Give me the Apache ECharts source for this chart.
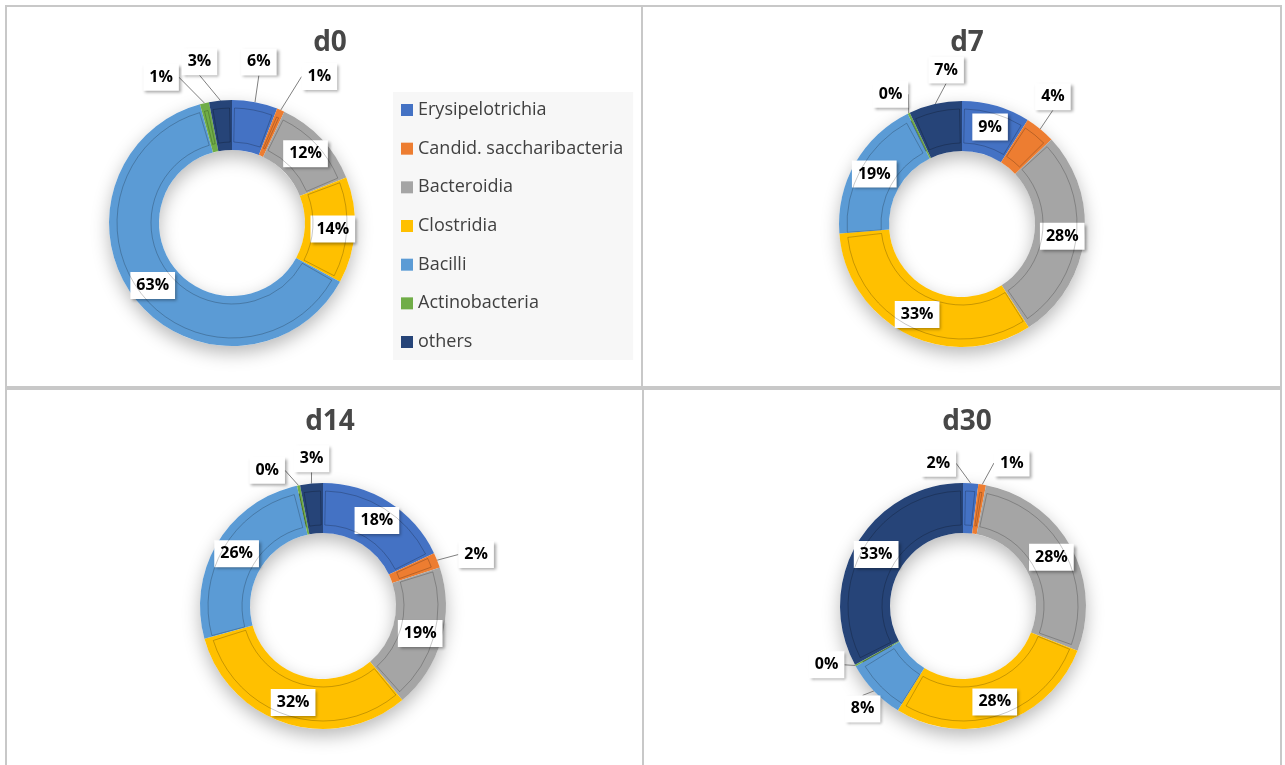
<!DOCTYPE html>
<html>
<head>
<meta charset="utf-8">
<script src="https://cdn.jsdelivr.net/npm/echarts@6/dist/echarts.min.js"></script>
<style>
html, body { margin: 0; padding: 0; background: #fff; }
#chart { width: 1285px; height: 765px; }
</style>
</head>
<body>
<div id="chart"></div>
<script>
const categories = ['Erysipelotrichia', 'Candid. saccharibacteria', 'Bacteroidia', 'Clostridia', 'Bacilli', 'Actinobacteria', 'others']
const panelTitles = ['d0', 'd7', 'd14', 'd30']
// percentages, clockwise from 12 o'clock
const d0 = [6, 1, 12, 14, 63, 1.2, 3]
const d7 = [9, 4, 28, 33, 19, 0.3, 7]
const d14 = [18, 2, 19, 32, 26, 0.4, 3]
const d30 = [2, 1, 28, 28, 8, 0.2, 33]

const colors = ['#4472c4', '#ed7d31', '#a5a5a5', '#ffc000', '#5b9bd5', '#70ad47', '#264478']
const panelData = [d0, d7, d14, d30]
const centers = [[232, 223], [962, 224], [323, 606], [963, 606]]
const titlePos = [[325, 24], [962, 24], [325, 403], [962, 403]]
// callout labels (outside the ring): data index -> extra nudge [dx, dy]
const callouts = [
    { 0: [-4, 1], 1: [22, 5], 5: [-34, 15], 6: [-17, 3] },
    { 1: [-14, 0], 5: [0, 19], 6: [20, 7] },
    { 1: [0, 10], 5: [-23, 26], 6: [4, 17] },
    { 0: [-35, 22], 1: [23, 20], 4: [19, -11], 5: [8, -21] }
]
const R = [73, 123]
const calloutDist = 42

const labelBox = {
    fontWeight: 'bold',
    fontSize: 16,
    fontFamily: 'Open Sans',
    color: '#000',
    backgroundColor: '#fff',
    padding: [6, 6, 5, 6],
    shadowBlur: 3,
    shadowColor: 'rgba(0,0,0,0.35)',
    shadowOffsetX: 2,
    shadowOffsetY: 2,
    formatter(p) {
        return Math.round(p.value) + '%'
    }
}

let series = []
let titles = []
let pieSeriesIdx = {}
panelData.forEach((vals, k) => {
    titles.push({
        text: panelTitles[k],
        left: titlePos[k][0],
        top: titlePos[k][1],
        textAlign: 'center',
        textStyle: { fontSize: 28, fontWeight: 'bold', color: '#474747', fontFamily: 'Open Sans' }
    })
    // soft shadow below the ring
    series.push({
        type: 'pie',
        center: centers[k],
        radius: R,
        silent: true,
        z: 1,
        label: { show: false },
        labelLine: { show: false },
        itemStyle: { color: '#fff', shadowBlur: 18, shadowOffsetY: 7, shadowColor: 'rgba(0,0,0,0.28)' },
        data: [{ value: 1, name: '' }]
    })
    pieSeriesIdx[series.length] = k
    series.push({
        type: 'pie',
        name: panelTitles[k],
        center: centers[k],
        radius: R,
        startAngle: 90,
        z: 2,
        avoidLabelOverlap: false,
        label: Object.assign({ show: true, position: 'inside' }, labelBox),
        labelLine: { show: true, length: 20, length2: 0, lineStyle: { color: '#7f7f7f', width: 1 } },
        labelLayout: function (params) {
            const k = pieSeriesIdx[params.seriesIndex]
            const n = callouts[k] && callouts[k][params.dataIndex]
            if (!n || !params.labelLinePoints) {
                return { hideOverlap: false }
            }
            const p0 = params.labelLinePoints[0]
            const p1 = params.labelLinePoints[1]
            const dx = p1[0] - p0[0], dy = p1[1] - p0[1]
            const len = Math.sqrt(dx * dx + dy * dy) || 1
            return {
                x: p0[0] + dx / len * calloutDist + n[0],
                y: p0[1] + dy / len * calloutDist + n[1],
                align: 'center',
                verticalAlign: 'middle',
                hideOverlap: false
            }
        },
        emphasis: { scale: false },
        data: vals.map((v, i) => {
            let item = { value: v, name: categories[i], itemStyle: { color: colors[i] } }
            if (callouts[k][i]) {
                item.label = { position: 'outside' }
            } else {
                item.labelLine = { show: false }
            }
            return item
        })
    })
    // inset bevel outline
    series.push({
        type: 'pie',
        center: centers[k],
        radius: [81, 115],
        startAngle: 90,
        padAngle: 2.5,
        silent: true,
        z: 3,
        label: { show: false },
        labelLine: { show: false },
        itemStyle: { color: 'rgba(0,0,0,0)', borderColor: 'rgba(0,0,0,0.22)', borderWidth: 1 },
        data: vals.map((v, i) => ({ value: v, name: categories[i] }))
    })
})

const chart = echarts.init(document.getElementById('chart'))
chart.setOption({
    animation: false,
    color: colors,
    title: titles,
    legend: {
        data: categories,
        orient: 'vertical',
        left: 393,
        top: 92,
        backgroundColor: '#f7f7f7',
        padding: [8, 10, 8, 8],
        icon: 'rect',
        itemWidth: 12,
        itemHeight: 12,
        itemGap: 18.67,
        textStyle: { fontSize: 18, color: '#404040', lineHeight: 20, fontFamily: 'Open Sans' }
    },
    graphic: [
        { type: 'rect', shape: { x: 6, y: 6, width: 636, height: 381 }, style: { fill: 'none', stroke: '#c8c8c8', lineWidth: 2 } },
        { type: 'rect', shape: { x: 642, y: 6, width: 639, height: 381 }, style: { fill: 'none', stroke: '#c8c8c8', lineWidth: 2 } },
        { type: 'rect', shape: { x: 6, y: 389, width: 637, height: 380 }, style: { fill: 'none', stroke: '#c8c8c8', lineWidth: 2 } },
        { type: 'rect', shape: { x: 643, y: 389, width: 638, height: 380 }, style: { fill: 'none', stroke: '#c8c8c8', lineWidth: 2 } }
    ],
    series: series
})
</script>
</body>
</html>
